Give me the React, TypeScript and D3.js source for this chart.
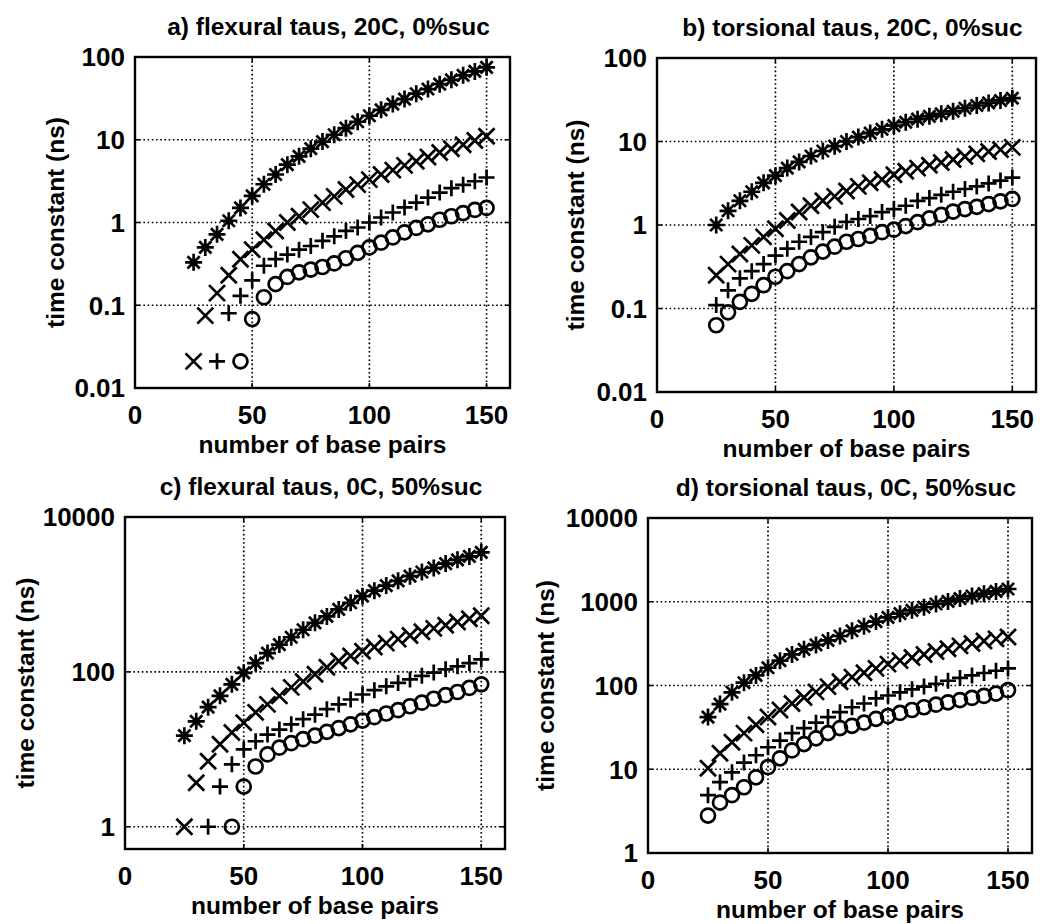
import React from "react";
import * as d3 from "d3";

// ---------- data ----------
const bp25 = [25,30,35,40,45,50,55,60,65,70,75,80,85,90,95,100,105,110,115,120,125,130,135,140,145,150];
const bp35 = [35,40,45,50,55,60,65,70,75,80,85,90,95,100,105,110,115,120,125,130,135,140,145,150];
const bp45 = [45,50,55,60,65,70,75,80,85,90,95,100,105,110,115,120,125,130,135,140,145,150];

const xTicks = [0, 50, 100, 150];

// a) flexural, 20C, 0% sucrose
const aStar = [0.33,0.5,0.72,1.05,1.5,2.1,2.9,3.8,5.0,6.3,7.8,9.5,11.5,13.8,16.5,19.5,23,27,31,36,41,47,53,60,67,75];
const aCross = [0.021,0.075,0.14,0.23,0.36,0.47,0.62,0.79,1.0,1.19,1.43,1.74,2.07,2.5,2.87,3.3,3.8,4.3,4.9,5.5,6.2,7.0,7.8,8.7,9.8,11];
const aPlus = [0.021,0.08,0.13,0.2,0.3,0.36,0.41,0.47,0.52,0.6,0.68,0.79,0.87,1.0,1.15,1.32,1.52,1.74,2.0,2.3,2.6,2.85,3.15,3.5];
const aCirc = [0.021,0.068,0.125,0.18,0.22,0.25,0.27,0.29,0.32,0.37,0.43,0.5,0.57,0.66,0.76,0.86,0.95,1.08,1.19,1.3,1.42,1.5];

// b) torsional, 20C, 0% sucrose
const bStar = [1.0,1.48,1.95,2.5,3.2,3.9,4.8,5.7,6.7,7.7,8.8,10,11.3,12.6,14,15.5,17,18.5,20,21.5,23,25,27,29,31,33];
const bCross = [0.25,0.34,0.45,0.57,0.72,0.9,1.13,1.43,1.7,1.95,2.2,2.55,2.9,3.2,3.5,4.0,4.4,4.8,5.2,5.6,6.1,6.6,7.1,7.6,8.0,8.5];
const bPlus = [0.11,0.165,0.23,0.28,0.34,0.43,0.52,0.63,0.72,0.82,0.95,1.09,1.18,1.28,1.43,1.55,1.7,1.95,2.1,2.3,2.5,2.7,2.9,3.15,3.4,3.7];
const bCirc = [0.063,0.09,0.12,0.15,0.19,0.24,0.28,0.34,0.41,0.48,0.55,0.63,0.68,0.74,0.82,0.88,0.97,1.08,1.2,1.32,1.45,1.55,1.65,1.78,1.92,2.05];

// c) flexural, 0C, 50% sucrose
const cStar = [15,23,35,49,69,97,130,175,225,280,350,430,520,640,780,950,1120,1300,1500,1720,1950,2200,2500,2800,3100,3500];
const cCross = [1.0,3.7,7.0,11.6,16.5,22,30,38,49,63,75,93,115,138,160,185,210,235,265,295,330,365,400,440,485,530];
const cPlus = [1.0,3.3,6.4,10,12.7,15.5,18,21,24.5,28,33,38,44,51,58,65,72,80,89,98,108,118,130,145];
const cCirc = [1.0,3.3,6.0,8.6,10.5,12,13.5,15,16.8,18.8,21,23.5,26,29,32,36,40,45,50,55,62,69];

// d) torsional, 0C, 50% sucrose
const dStar = [42,60,83,108,132,163,198,235,270,305,345,390,450,510,580,650,720,790,860,940,1010,1090,1170,1250,1330,1420];
const dCross = [10.3,15.5,21,27,34,42,51,61,72,84,97,111,126,142,160,180,198,216,235,255,275,297,318,340,360,380];
const dPlus = [4.9,7.0,9.2,12,14.7,18.3,22,27,31,36,42,48,55,61,70,76,83,90,97,105,114,123,132,141,150,160];
const dCirc = [2.8,4.0,4.9,6.1,8.0,10.6,13.5,16.8,20,23.4,27,31,33,36,40,43,47,51,55,59,63,67,71,75,80,88];

const ticksA = [0.01, 0.1, 1, 10, 100];
const ticksC = [1, 100, 10000];
const ticksD = [1, 10, 100, 1000, 10000];

const titles = [
  "a) flexural taus, 20C, 0%suc",
  "b) torsional taus, 20C, 0%suc",
  "c) flexural taus, 0C, 50%suc",
  "d) torsional taus, 0C, 50%suc",
];

type Series = { marker: string; x: number[]; y: number[] };

const panels = [
  { title: titles[0], box: { l: 135, r: 510, t: 57, b: 388 }, yDomain: [0.01, 100], yTicks: ticksA, ylabX: 55,
    series: [
      { marker: "star", x: bp25, y: aStar },
      { marker: "x", x: bp25, y: aCross },
      { marker: "+", x: bp35, y: aPlus },
      { marker: "o", x: bp45, y: aCirc },
    ] as Series[] },
  { title: titles[1], box: { l: 657, r: 1036, t: 58, b: 392 }, yDomain: [0.01, 100], yTicks: ticksA, ylabX: 575,
    series: [
      { marker: "star", x: bp25, y: bStar },
      { marker: "x", x: bp25, y: bCross },
      { marker: "+", x: bp25, y: bPlus },
      { marker: "o", x: bp25, y: bCirc },
    ] as Series[] },
  { title: titles[2], box: { l: 125, r: 505, t: 517, b: 849 }, yDomain: [0.516, 10000], yTicks: ticksC, ylabX: 25,
    series: [
      { marker: "star", x: bp25, y: cStar },
      { marker: "x", x: bp25, y: cCross },
      { marker: "+", x: bp35, y: cPlus },
      { marker: "o", x: bp45, y: cCirc },
    ] as Series[] },
  { title: titles[3], box: { l: 648, r: 1032, t: 518, b: 853 }, yDomain: [1, 10000], yTicks: ticksD, ylabX: 545,
    series: [
      { marker: "star", x: bp25, y: dStar },
      { marker: "x", x: bp25, y: dCross },
      { marker: "+", x: bp25, y: dPlus },
      { marker: "o", x: bp25, y: dCirc },
    ] as Series[] },
];

const FONT = "'Liberation Sans', Arial, Helvetica, sans-serif";

function Marker({ kind, cx, cy }: { kind: string; cx: number; cy: number }) {
  const sw = 2.7;
  if (kind === "o") return <circle cx={cx} cy={cy} r={7} fill="none" stroke="#000" strokeWidth={sw} />;
  const r = kind === "star" ? 8.5 : 8;
  const d = kind === "x" ? 8 : r * 0.72;
  let path = "";
  if (kind === "+") path = `M${cx - r},${cy}H${cx + r}M${cx},${cy - r}V${cy + r}`;
  else if (kind === "x") path = `M${cx - d},${cy - d}L${cx + d},${cy + d}M${cx - d},${cy + d}L${cx + d},${cy - d}`;
  else
    path = `M${cx - r},${cy}H${cx + r}M${cx},${cy - r}V${cy + r}M${cx - d},${cy - d}L${cx + d},${cy + d}M${cx - d},${cy + d}L${cx + d},${cy - d}`;
  return <path d={path} fill="none" stroke="#000" strokeWidth={sw} />;
}

function fmt(v: number) {
  return v < 1 ? String(v) : d3.format("d")(v);
}

function Panel({ p }: { p: (typeof panels)[number] }) {
  const { l, r, t, b } = p.box;
  const x = d3.scaleLinear().domain([0, 160]).range([l, r]);
  const y = d3.scaleLog().domain(p.yDomain).range([b, t]);
  const cx = (l + r) / 2;
  const cy = (t + b) / 2;
  return (
    <g>
      {/* grid */}
      {xTicks.filter((v) => v > 0).map((v) => (
        <line key={"gx" + v} x1={x(v)} x2={x(v)} y1={t} y2={b} stroke="#000" strokeWidth={1.7} strokeDasharray="1.6,2.6" />
      ))}
      {p.yTicks.filter((v) => y(v) > t + 2 && y(v) < b - 2).map((v) => (
        <line key={"gy" + v} x1={l} x2={r} y1={y(v)} y2={y(v)} stroke="#000" strokeWidth={1.7} strokeDasharray="1.6,2.6" />
      ))}
      {/* ticks */}
      {xTicks.map((v) => (
        <g key={"tx" + v}>
          <line x1={x(v)} x2={x(v)} y1={b} y2={b - 5} stroke="#000" strokeWidth={1.5} />
          <line x1={x(v)} x2={x(v)} y1={t} y2={t + 5} stroke="#000" strokeWidth={1.5} />
          <text x={x(v)} y={b + 36} textAnchor="middle" fontSize={26} fontWeight="bold" fontFamily={FONT}>{v}</text>
        </g>
      ))}
      {p.yTicks.map((v) => (
        <g key={"ty" + v}>
          <line x1={l} x2={l + 5} y1={y(v)} y2={y(v)} stroke="#000" strokeWidth={1.5} />
          <line x1={r} x2={r - 5} y1={y(v)} y2={y(v)} stroke="#000" strokeWidth={1.5} />
          <text x={l - 10} y={y(v)} dy="0.36em" textAnchor="end" fontSize={26} fontWeight="bold" fontFamily={FONT}>{fmt(v)}</text>
        </g>
      ))}
      {/* data */}
      {p.series.map((s, si) =>
        s.y.map((v, i) => <Marker key={si + "-" + i} kind={s.marker} cx={x(s.x[i])} cy={y(v)} />)
      )}
      {/* box */}
      <rect x={l} y={t} width={r - l} height={b - t} fill="none" stroke="#000" strokeWidth={2.4} />
      {/* labels */}
      <text x={cx + 6} y={t - 22} textAnchor="middle" fontSize={24.5} fontWeight="bold" fontFamily={FONT}>{p.title}</text>
      <text x={cx} y={b + 65} textAnchor="middle" fontSize={24.5} fontWeight="bold" fontFamily={FONT}>number of base pairs</text>
      <text transform={`translate(${p.ylabX},${cy}) rotate(-90)`} dy="0.35em" textAnchor="middle" fontSize={24.5} fontWeight="bold" fontFamily={FONT}>
        time constant (ns)
      </text>
    </g>
  );
}

export default function App() {
  return (
    <svg width={1042} height={924} style={{ position: "absolute", left: 0, top: 0, background: "#fff" }}>
      <rect x={0} y={0} width={1042} height={924} fill="#fff" />
      {panels.map((p, i) => (
        <Panel key={i} p={p} />
      ))}
    </svg>
  );
}
